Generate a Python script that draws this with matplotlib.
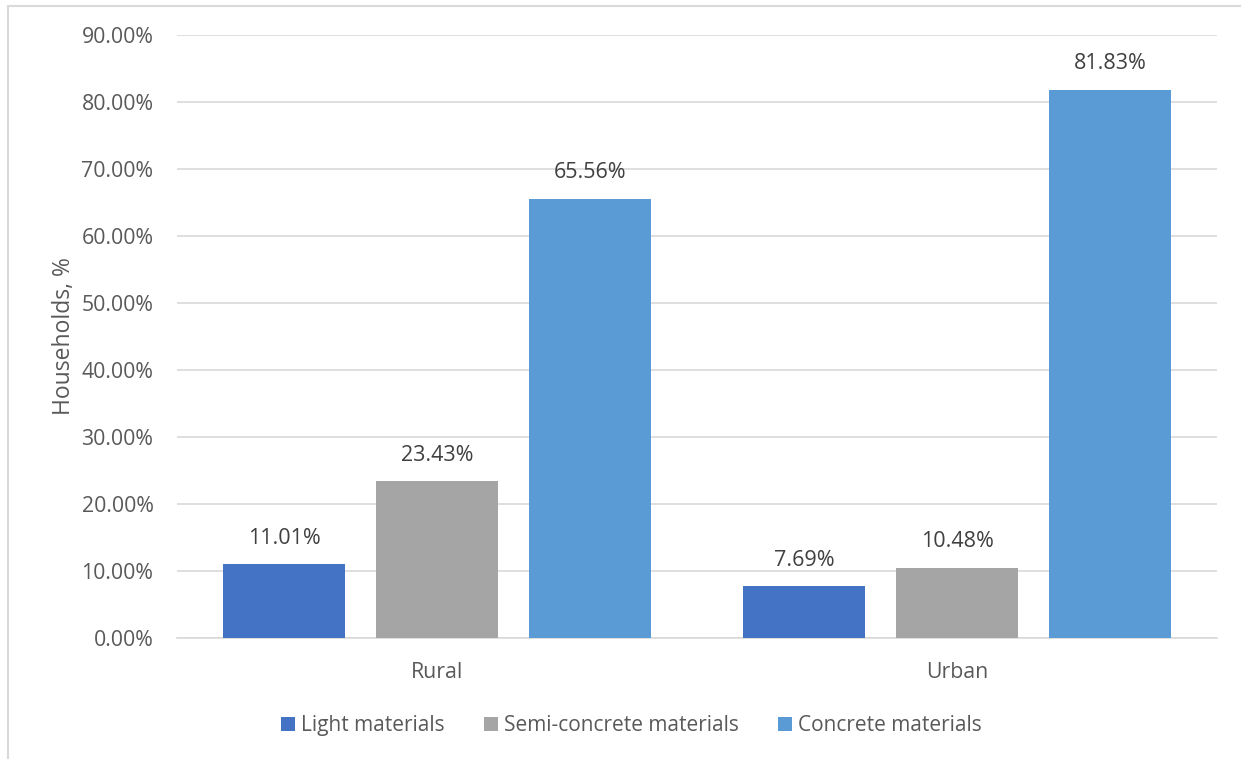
import matplotlib
matplotlib.use("Agg")
import matplotlib.pyplot as plt
import numpy as np
from matplotlib.patches import Rectangle
from matplotlib.ticker import FuncFormatter, MultipleLocator

plt.rcParams["font.family"] = ["Open Sans", "DejaVu Sans"]

areas = ["Rural", "Urban"]
series = ["Light materials", "Semi-concrete materials", "Concrete materials"]
light = [11.01, 7.69]
semi = [23.43, 10.48]
concrete = [65.56, 81.83]
colors = ["#4472C4", "#A5A5A5", "#5B9BD5"]

TXT = "#595959"
GRID = "#D9D9D9"

fig = plt.figure(figsize=(12.41, 7.59), dpi=100)
ax = fig.add_axes([177 / 1241, 121 / 759, 1040 / 1241, 603 / 759])

# outer chart frame (only the left and top edges fall inside the image)
fig.patches.append(Rectangle((8 / 1241, -0.05), 1.2, (753 / 759) + 0.05,
                             transform=fig.transFigure, fill=False,
                             edgecolor=GRID, lw=1.5))

x = np.arange(len(areas))
width = 0.235
step = 0.294
for i, (name, vals) in enumerate(zip(series, [light, semi, concrete])):
    pos = x + (i - 1) * step
    bars = ax.bar(pos, vals, width=width, color=colors[i], label=name, zorder=3)
    for b, v in zip(bars, vals):
        ax.text(b.get_x() + b.get_width() / 2, v + 2.3, f"{v:.2f}%",
                ha="center", va="bottom", fontsize=15.5, color="#404040")

ax.set_xlim(-0.5, 1.5)
ax.set_ylim(0, 90)
ax.yaxis.set_major_locator(MultipleLocator(10))
ax.yaxis.set_major_formatter(FuncFormatter(lambda v, _: f"{v:.2f}%"))
ax.set_xticks(x)
ax.set_xticklabels(areas)
ax.tick_params(axis="both", length=0, labelsize=15.3, colors=TXT)
ax.tick_params(axis="y", pad=17)
ax.tick_params(axis="x", pad=17)
ax.grid(axis="y", color=GRID, lw=1.2, zorder=0)
for s in ["top", "right", "left"]:
    ax.spines[s].set_visible(False)
ax.spines["bottom"].set_color(GRID)
ax.spines["bottom"].set_linewidth(1.2)

ax.set_ylabel("Households, %", fontsize=16.5, color=TXT, labelpad=4)

ax.legend(loc="center", bbox_to_anchor=(0.437, -0.145), ncol=3, frameon=False,
          fontsize=15, labelcolor=TXT, handlelength=0.65, handleheight=0.65,
          handletextpad=0.3, columnspacing=1.9)

fig.savefig("out.png", dpi=100)
